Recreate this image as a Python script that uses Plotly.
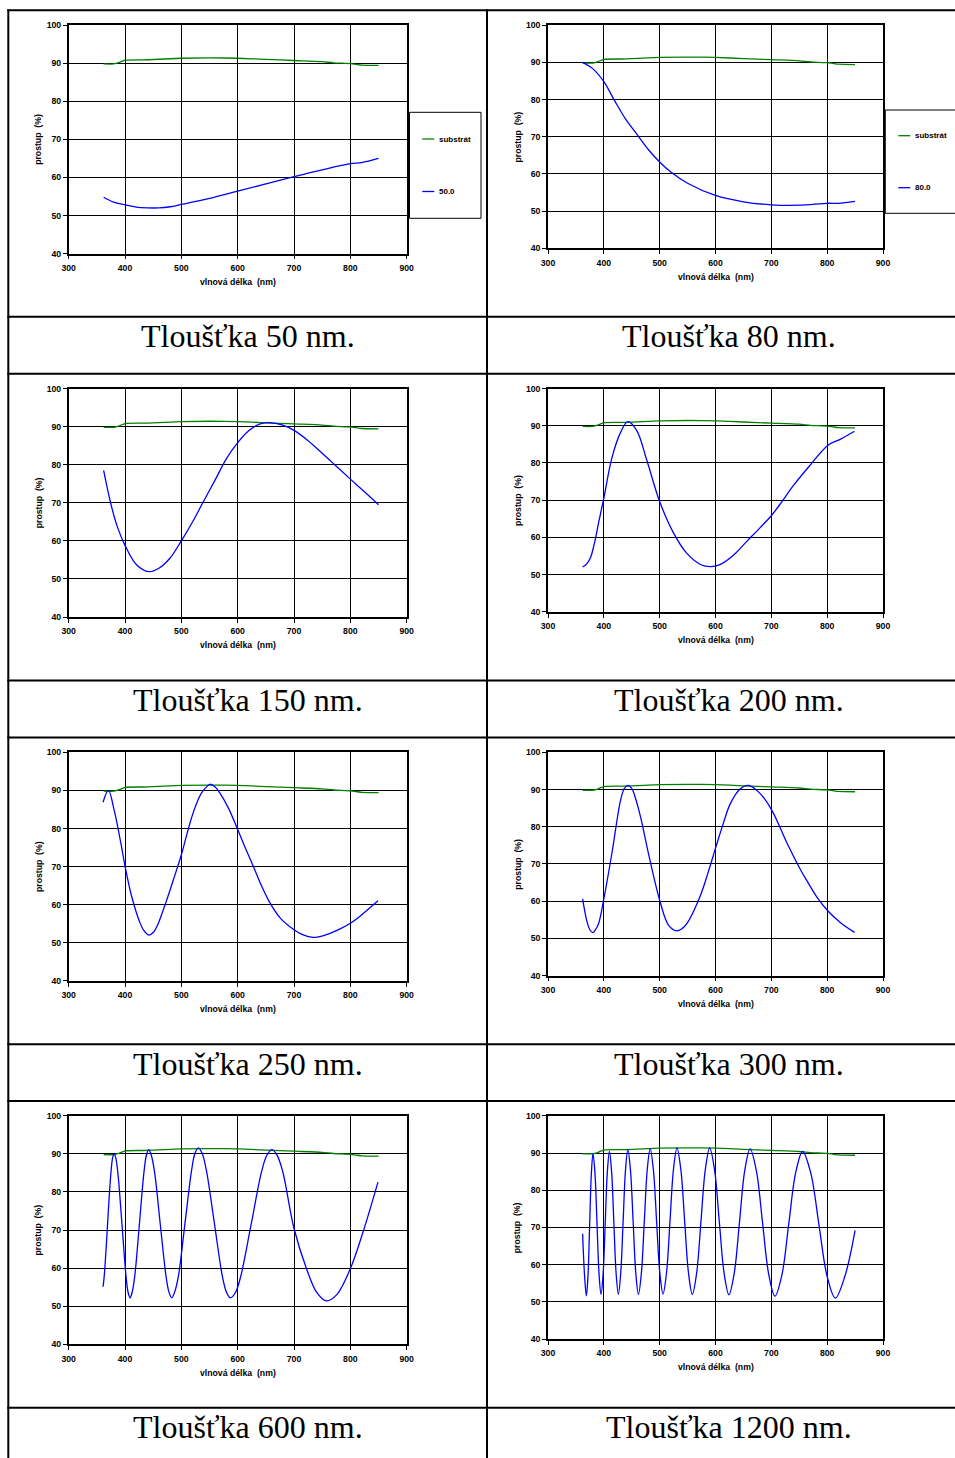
import plotly.graph_objects as go

# ---------------- data ----------------
x_ticks = [300, 400, 500, 600, 700, 800, 900]
y_ticks = [40, 50, 60, 70, 80, 90, 100]
x_title = "vlnová délka\u00a0 (nm)"
y_title = "prostup\u00a0 (%)"
substrate_name = "substrát"

wl_sub = [362, 380, 390, 400, 440, 500, 550, 600, 650, 700, 750, 770, 800, 810, 820, 850]
T_sub = [89.8, 89.8, 90.2, 90.8, 90.9, 91.3, 91.4, 91.3, 91.0, 90.7, 90.4, 90.1, 89.9, 89.7, 89.5, 89.4]

wl_50 = [362, 380, 400, 420, 440, 460, 480, 500, 550, 600, 650, 700, 750, 800, 820, 850]
T_50 = [54.8, 53.5, 52.8, 52.2, 52.0, 52.0, 52.3, 52.9, 54.5, 56.4, 58.3, 60.2, 62.0, 63.6, 63.9, 65.0]

wl_80 = [362, 380, 400, 420, 440, 460, 480, 500, 520, 550, 600, 650, 700, 750, 800, 820, 850]
T_80 = [90.0, 88.3, 84.8, 79.5, 74.5, 70.5, 66.5, 63.2, 60.5, 57.5, 54.2, 52.5, 51.7, 51.6, 52.1, 52.1, 52.6]

wl_150 = [362, 375, 387, 400, 420, 442, 460, 480, 500, 520, 538, 560, 580, 600, 620, 640, 660, 680, 700, 725, 750, 775, 800, 825, 850]
T_150 = [78.5, 69.6, 63.4, 58.8, 53.8, 51.9, 52.8, 55.5, 60.0, 65.0, 70.0, 76.0, 81.6, 85.8, 89.0, 90.7, 91.0, 90.4, 89.0, 86.3, 83.0, 79.6, 76.2, 72.9, 69.5]

wl_200 = [362, 369, 376, 383, 391, 400, 414, 430, 443, 459, 477, 500, 524, 548, 573, 591, 610, 633, 656, 680, 701, 720, 740, 769, 801, 824, 849]
T_200 = [52.0, 52.8, 54.5, 58.3, 64.2, 70.5, 81.1, 88.2, 91.1, 88.7, 80.7, 69.6, 61.4, 55.8, 52.7, 52.1, 52.8, 55.3, 58.9, 62.6, 66.0, 69.8, 74.0, 79.3, 84.7, 86.4, 88.5]

wl_250 = [361, 370.5, 381, 393, 400, 411, 425.6, 433, 442, 451, 458, 473, 486, 500, 510, 520, 529, 538, 551, 560, 568, 584, 600, 613, 626.5, 640, 656, 676, 700, 715, 733.6, 757, 780, 800, 816.6, 849]
T_250 = [86.9, 90.0, 84.6, 75.8, 70.1, 62.6, 55.6, 53.3, 52.0, 52.8, 54.7, 60.8, 66.6, 73.1, 78.6, 83.7, 87.3, 89.8, 91.6, 90.9, 89.4, 85.2, 79.7, 75.1, 70.5, 65.7, 60.8, 56.4, 53.4, 52.1, 51.4, 52.1, 53.5, 55.1, 56.9, 61.0]

wl_300 = [362, 366, 370, 375, 380, 385, 390.7, 400, 414.6, 429.9, 436.5, 442.7, 450, 456, 466, 477, 489, 501, 516, 531, 540, 549, 573, 587, 601, 614, 626.6, 644.5, 659, 680, 701, 728, 752, 766, 782, 801, 824, 849]
T_300 = [60.6, 57.2, 54.4, 52.3, 51.5, 52.3, 54.0, 60.6, 73.0, 87.1, 90.2, 91.1, 90.3, 88.0, 82.5, 74.8, 66.8, 59.7, 53.5, 52.0, 52.6, 54.0, 61.5, 67.8, 74.7, 80.9, 86.2, 90.2, 91.1, 88.9, 84.4, 75.6, 68.5, 64.9, 61.0, 57.4, 54.2, 51.6]

wl_600 = [361, 363, 366.9, 369, 372, 375, 378, 380.5, 383.5, 387.6, 394.75, 401.9, 405.5, 409, 412.5, 417.25, 425.5, 433.75, 438, 442, 446.5, 452.25, 462.5, 472.75, 478, 483, 488, 494.75, 506.5, 518.25, 524, 530, 537, 544.25, 558.5, 572.75, 580, 587, 596, 605.5, 624, 642.5, 652, 661, 670, 680, 700, 722, 740, 757, 775, 800, 822.5, 849]
T_600 = [55.1, 57.8, 66.3, 71.6, 78.9, 85.1, 89.0, 90.0, 89.0, 84.5, 71.1, 57.7, 53.6, 52.2, 53.6, 57.9, 71.6, 85.4, 89.7, 91.1, 89.7, 85.4, 71.6, 57.9, 53.7, 52.2, 53.7, 57.9, 71.9, 85.8, 90.1, 91.6, 90.1, 85.8, 71.9, 57.9, 53.7, 52.2, 53.6, 57.9, 71.6, 85.4, 89.7, 91.1, 89.6, 85.3, 70.4, 59.9, 53.7, 51.4, 52.9, 59.9, 69.5, 82.6]

wl_1200 = [362, 365.5, 368.7, 371.7, 374.6, 377.6, 380.6, 384.2, 387.8, 391.4, 395, 398.75, 402.5, 406.25, 410, 414, 418, 422, 426, 430.25, 434.5, 438.75, 443, 447.75, 452.5, 457.25, 462, 467.25, 472.5, 477.75, 483, 488.75, 494.5, 500.25, 506, 512.25, 518.5, 524.75, 531, 537.9, 544.75, 551.6, 558.5, 566.3, 574, 581.8, 589.6, 598.2, 606.8, 615.4, 624, 633.5, 643, 652.5, 662, 673.1, 684.25, 695.4, 706.5, 718.9, 731.25, 743.6, 756, 770.65, 785.3, 800, 814.6, 832, 850]
T_1200 = [68.3, 57.0, 51.6, 57.2, 70.8, 84.3, 89.9, 84.4, 71.0, 57.5, 52.0, 57.6, 71.2, 84.8, 90.4, 84.8, 71.2, 57.6, 52.0, 57.7, 71.5, 85.3, 91.0, 85.3, 71.5, 57.7, 52.0, 57.7, 71.6, 85.5, 91.2, 85.5, 71.6, 57.8, 52.1, 57.8, 71.7, 85.7, 91.4, 85.6, 71.7, 57.8, 52.0, 57.8, 71.7, 85.6, 91.4, 85.6, 71.6, 57.7, 51.9, 57.6, 71.5, 85.4, 91.1, 85.3, 71.3, 57.3, 51.5, 57.2, 71.0, 84.7, 90.4, 84.6, 70.7, 56.8, 51.0, 57.0, 69.2]

series_names = ["50.0", "80.0", "150.0", "200.0", "250.0", "300.0", "600.0", "1200.0"]
series_wl = [wl_50, wl_80, wl_150, wl_200, wl_250, wl_300, wl_600, wl_1200]
series_T = [T_50, T_80, T_150, T_200, T_250, T_300, T_600, T_1200]
captions = ["Tloušťka 50 nm.", "Tloušťka 80 nm.", "Tloušťka 150 nm.", "Tloušťka 200 nm.",
            "Tloušťka 250 nm.", "Tloušťka 300 nm.", "Tloušťka 600 nm.", "Tloušťka 1200 nm."]

# ---------------- layout helpers ----------------
W, H = 955, 1458
def px(x):
    return x / W
def py(y):
    return 1 - y / H

GREEN = "#008000"
BLUE = "#0000FF"
tickfont = dict(family="Liberation Sans, Arial", size=8.7, color="black", weight="bold")
labfont = dict(family="Liberation Sans, Arial", size=8.7, color="black", weight="bold")

row_tops = [10.3, 373.7, 737.5, 1101.0]
cap_lines = [316.7, 680.5, 1044.3, 1407.7]
col_x = [(68.7, 406.7), (548.0, 883.0)]
col_bottom = [243.3, 238.0]
col_center = [247.5, 728.7]

fig = go.Figure()
annotations = []
shapes = []

for i in range(8):
    r, c = divmod(i, 2)
    n = "" if i == 0 else str(i + 1)
    top = row_tops[r] + 14.8
    bot = row_tops[r] + col_bottom[c]
    x0, x1 = col_x[c]
    xa = dict(domain=[px(x0), px(x1)], anchor="y" + n, range=[300, 900], tickvals=x_ticks,
              ticks="outside", ticklen=4, tickwidth=1.2, tickcolor="black",
              showgrid=True, gridcolor="black", gridwidth=1,
              showline=True, linecolor="black", linewidth=1.6, mirror=True,
              zeroline=False, tickfont=tickfont, automargin=False, fixedrange=True,
              ticklabelstandoff=1)
    ya = dict(domain=[py(bot), py(top)], anchor="x" + n, range=[40, 100], tickvals=y_ticks,
              ticks="outside", ticklen=4, tickwidth=1.2, tickcolor="black",
              showgrid=True, gridcolor="black", gridwidth=1,
              showline=True, linecolor="black", linewidth=1.6, mirror=True,
              zeroline=False, tickfont=tickfont, automargin=False, fixedrange=True)
    fig.update_layout(**{"xaxis" + n: xa, "yaxis" + n: ya})

    fig.add_trace(go.Scatter(x=wl_sub, y=T_sub, mode="lines", name=substrate_name,
                             line=dict(color=GREEN, width=1.3, shape="spline", smoothing=0.6),
                             xaxis="x" + n, yaxis="y" + n, showlegend=False))
    fig.add_trace(go.Scatter(x=series_wl[i], y=series_T[i], mode="lines", name=series_names[i],
                             line=dict(color=BLUE, width=1.3, shape="spline", smoothing=1.0),
                             xaxis="x" + n, yaxis="y" + n, showlegend=False))

    # axis titles
    annotations.append(dict(text=x_title, x=px((x0 + x1) / 2), y=py(bot + 28.2),
                            xref="paper", yref="paper", xanchor="center", yanchor="middle",
                            showarrow=False, font=labfont))
    annotations.append(dict(text=y_title, x=px(x0 - 30.2), y=py((top + bot) / 2),
                            xref="paper", yref="paper", xanchor="center", yanchor="middle",
                            textangle=-90, showarrow=False, font=labfont))
    # caption
    annotations.append(dict(text=captions[i], x=px(col_center[c]), y=py(cap_lines[r] + 19.2),
                            xref="paper", yref="paper", xanchor="center", yanchor="middle",
                            showarrow=False,
                            font=dict(family="Liberation Serif, Times New Roman", size=32, color="black")))

# legends (first row only)
legend_boxes = [(409.5, 481.0, 112.3, 218.3), (885.3, 980.0, 110.0, 213.3)]
legend_rows = [(139.0, 191.5), (135.7, 187.7)]
legend_line_x = [(422.3, 434.3), (898.3, 910.3)]
for c in range(2):
    bx0, bx1, by0, by1 = legend_boxes[c]
    shapes.append(dict(type="rect", xref="paper", yref="paper", x0=px(bx0), x1=px(bx1),
                       y0=py(by1), y1=py(by0), line=dict(color="black", width=1)))
    lx0, lx1 = legend_line_x[c]
    for k, (name, col) in enumerate([(substrate_name, GREEN), (series_names[c], BLUE)]):
        yy = legend_rows[c][k]
        shapes.append(dict(type="line", xref="paper", yref="paper", x0=px(lx0), x1=px(lx1),
                           y0=py(yy), y1=py(yy), line=dict(color=col, width=1.3)))
        annotations.append(dict(text=name, x=px(lx1 + 2.5), y=py(yy), xref="paper", yref="paper",
                                xanchor="left", yanchor="middle", showarrow=False,
                                font=dict(family="Liberation Sans, Arial", size=8, color="black",
                                          weight="bold")))

# table borders
for yl in [10.3, 316.7, 373.7, 680.5, 737.5, 1044.3, 1101.0, 1407.7]:
    shapes.append(dict(type="line", xref="paper", yref="paper", x0=px(7.3), x1=px(970),
                       y0=py(yl), y1=py(yl), line=dict(color="black", width=2)))
for xl in [8.3, 487.0]:
    shapes.append(dict(type="line", xref="paper", yref="paper", x0=px(xl), x1=px(xl),
                       y0=py(9.3), y1=py(1470), line=dict(color="black", width=2)))

fig.update_layout(width=W, height=H, margin=dict(l=0, r=0, t=0, b=0, pad=0),
                  paper_bgcolor="white", plot_bgcolor="white", showlegend=False,
                  annotations=annotations, shapes=shapes)

fig.write_html("out.html", config={"displayModeBar": False})
